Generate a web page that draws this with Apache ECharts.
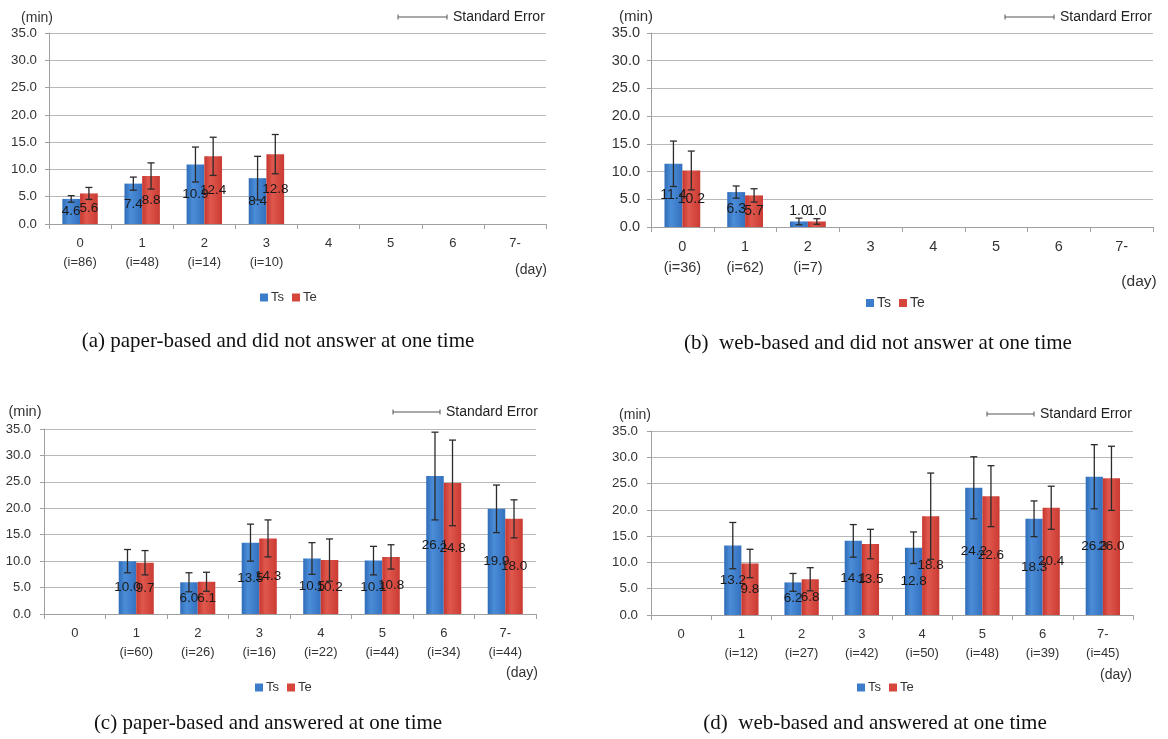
<!DOCTYPE html>
<html>
<head>
<meta charset="utf-8">
<title>Ts / Te by day</title>
<script src="https://cdn.jsdelivr.net/npm/echarts@6/dist/echarts.min.js"></script>
<style>
html, body { margin: 0; padding: 0; background: #fff; }
#chart { width: 1168px; height: 739px; }
</style>
</head>
<body>
<div id="chart"></div>
<script>
// day categories shared by all four panels
const days = ['0', '1', '2', '3', '4', '5', '6', '7-']

// (a) paper-based, did not answer at one time
const countsA = [86, 48, 14, 10, null, null, null, null]
const tsA = [4.6, 7.4, 10.9, 8.4, null, null, null, null]
const teA = [5.6, 8.8, 12.4, 12.8, null, null, null, null]
const tsErrA = [0.6, 1.2, 3.2, 4.0, null, null, null, null]
const teErrA = [1.1, 2.4, 3.5, 3.6, null, null, null, null]

// (b) web-based, did not answer at one time
const countsB = [36, 62, 7, null, null, null, null, null]
const tsB = [11.4, 6.3, 1.0, null, null, null, null, null]
const teB = [10.2, 5.7, 1.0, null, null, null, null, null]
const tsErrB = [4.1, 1.1, 0.6, null, null, null, null, null]
const teErrB = [3.5, 1.2, 0.5, null, null, null, null, null]

// (c) paper-based, answered at one time
const countsC = [null, 60, 26, 16, 22, 44, 34, 44]
const tsC = [null, 10.0, 6.0, 13.5, 10.5, 10.1, 26.1, 19.9]
const teC = [null, 9.7, 6.1, 14.3, 10.2, 10.8, 24.8, 18.0]
const tsErrC = [null, 2.2, 1.8, 3.5, 3.0, 2.7, 8.3, 4.5]
const teErrC = [null, 2.3, 1.8, 3.5, 4.0, 2.3, 8.1, 3.6]

// (d) web-based, answered at one time
const countsD = [null, 12, 27, 42, 50, 48, 39, 45]
const tsD = [null, 13.2, 6.2, 14.1, 12.8, 24.2, 18.3, 26.3]
const teD = [null, 9.8, 6.8, 13.5, 18.8, 22.6, 20.4, 26.0]
const tsErrD = [null, 4.4, 1.7, 3.1, 3.0, 5.9, 3.4, 6.1]
const teErrD = [null, 2.7, 2.2, 2.8, 8.2, 5.8, 4.1, 6.1]

const yTicks = [0, 35, 5]   // min, max, interval

const captions = [
  '(a) paper-based and did not answer at one time',
  '(b)  web-based and did not answer at one time',
  '(c) paper-based and answered at one time',
  '(d)  web-based and answered at one time'
]

const FONT = '"Liberation Sans", Arial, sans-serif'
const SERIF = '"Liberation Serif", "Times New Roman", serif'
const BAR_FRAC = 0.285
const TEXT = '#333'

const panels = [
  { ts: tsA, te: teA, tsErr: tsErrA, teErr: teErrA, counts: countsA,
    grid: { left: 49, top: 33, width: 497, height: 191 },
    yFont: 13.3, xFont: 13, lineH: 19, xMargin: 10, yMargin: 12, labelFont: 13.5,
    legend: { left: 255, top: 286 }, legendFont: 13,
    min: [37, 18, 14], day: [531, 270], se: [398, 447, 17], cap: [278, 341] },
  { ts: tsB, te: teB, tsErr: tsErrB, teErr: teErrB, counts: countsB,
    grid: { left: 651, top: 33, width: 502, height: 194 },
    yFont: 14.5, xFont: 14.5, lineH: 21, xMargin: 9, yMargin: 11, labelFont: 14,
    legend: { left: 861, top: 291 }, legendFont: 14,
    min: [636, 17, 15], day: [1139, 282], se: [1005, 1054, 17], cap: [878, 343] },
  { ts: tsC, te: teC, tsErr: tsErrC, teErr: teErrC, counts: countsC,
    grid: { left: 44, top: 429, width: 492, height: 185 },
    yFont: 13, xFont: 13, lineH: 19, xMargin: 10, yMargin: 13, labelFont: 13.5,
    legend: { left: 250, top: 676 }, legendFont: 13,
    min: [25, 412, 14.5], day: [522, 673], se: [393, 440, 412], cap: [268, 723] },
  { ts: tsD, te: teD, tsErr: tsErrD, teErr: teErrD, counts: countsD,
    grid: { left: 651, top: 431, width: 482, height: 184 },
    yFont: 13.3, xFont: 13, lineH: 19, xMargin: 10, yMargin: 13, labelFont: 13.5,
    legend: { left: 852, top: 676 }, legendFont: 13,
    min: [635, 415, 14], day: [1116, 675], se: [987, 1034, 414], cap: [875, 723] }
]

const blue = new echarts.graphic.LinearGradient(0, 0, 1, 0, [
  { offset: 0, color: '#2f6cb8' }, { offset: 0.35, color: '#4b8dd8' }, { offset: 1, color: '#3471bf' }
])
const red = new echarts.graphic.LinearGradient(0, 0, 1, 0, [
  { offset: 0, color: '#c5362e' }, { offset: 0.35, color: '#e0584d' }, { offset: 1, color: '#ca3b33' }
])

const barSeries = (idx, name, values, color, p) => ({
  name,
  type: 'bar',
  xAxisIndex: idx,
  yAxisIndex: idx,
  barWidth: (BAR_FRAC * 100) + '%',
  barGap: '0%',
  itemStyle: { color },
  label: {
    show: true,
    position: 'inside',
    color: '#1a1a1a',
    fontSize: p.labelFont,
    fontFamily: FONT,
    formatter: d => d.value == null ? '' : Number(d.value).toFixed(1)
  },
  // very short bars carry their label on top, as in the original
  data: values.map(v => (v != null && v < 3) ? { value: v, label: { position: 'top', distance: 3 } } : v)
})

const errorSeries = (idx, means, errs, side) => {
  const data = []
  means.forEach((m, i) => { if (m != null) data.push([i, m, errs[i]]) })
  return {
    type: 'custom',
    xAxisIndex: idx,
    yAxisIndex: idx,
    z: 5,
    silent: true,
    encode: { x: 0, y: 1 },
    data,
    renderItem: (params, api) => {
      const i = api.value(0), m = api.value(1), e = api.value(2)
      const catW = api.size([1, 0])[0]
      const x = api.coord([i, m])[0] + side * catW * BAR_FRAC / 2
      const yTop = api.coord([i, m + e])[1]
      const yBot = api.coord([i, m - e])[1]
      const cap = 3.5
      const style = { stroke: '#2b2b2b', lineWidth: 1.3 }
      return {
        type: 'group',
        children: [
          { type: 'line', shape: { x1: x, y1: yTop, x2: x, y2: yBot }, style },
          { type: 'line', shape: { x1: x - cap, y1: yTop, x2: x + cap, y2: yTop }, style },
          { type: 'line', shape: { x1: x - cap, y1: yBot, x2: x + cap, y2: yBot }, style }
        ]
      }
    }
  }
}

const grids = [], xAxes = [], yAxes = [], series = [], legends = [], graphics = []

panels.forEach((p, idx) => {
  grids.push({ ...p.grid, containLabel: false })
  xAxes.push({
    type: 'category',
    gridIndex: idx,
    data: days.map((d, i) => p.counts[i] != null ? `${d}\n(i=${p.counts[i]})` : d),
    axisLine: { lineStyle: { color: '#a0a0a0', width: 1 } },
    axisTick: { show: true, length: 5, lineStyle: { color: '#a0a0a0' } },
    axisLabel: { color: TEXT, fontSize: p.xFont, fontFamily: FONT, lineHeight: p.lineH, margin: p.xMargin, interval: 0 }
  })
  yAxes.push({
    type: 'value',
    gridIndex: idx,
    min: yTicks[0],
    max: yTicks[1],
    interval: yTicks[2],
    axisLine: { show: true, lineStyle: { color: '#a0a0a0', width: 1 } },
    axisTick: { show: true, length: 4, lineStyle: { color: '#a0a0a0' } },
    splitLine: { lineStyle: { color: '#b8b8b8', width: 1.2 } },
    axisLabel: { color: TEXT, fontSize: p.yFont, fontFamily: FONT, margin: p.yMargin, formatter: v => v.toFixed(1) }
  })
  series.push(barSeries(idx, 'Ts', p.ts, blue, p))
  series.push(barSeries(idx, 'Te', p.te, red, p))
  series.push(errorSeries(idx, p.ts, p.tsErr, -1))
  series.push(errorSeries(idx, p.te, p.teErr, 1))

  legends.push({
    left: p.legend.left,
    top: p.legend.top,
    icon: 'rect',
    itemWidth: 8,
    itemHeight: 8,
    itemGap: 8,
    selectedMode: false,
    textStyle: { color: TEXT, fontSize: p.legendFont, fontFamily: FONT, padding: [0, 0, 0, -2] },
    data: [
      { name: 'Ts', itemStyle: { color: '#3b7dca' } },
      { name: 'Te', itemStyle: { color: '#d6463d' } }
    ]
  })

  // axis titles
  graphics.push({ type: 'text', x: p.min[0], y: p.min[1],
    style: { text: '(min)', align: 'center', verticalAlign: 'middle', fontSize: p.min[2], fontFamily: FONT, fill: TEXT } })
  graphics.push({ type: 'text', x: p.day[0], y: p.day[1],
    style: { text: '(day)', align: 'center', verticalAlign: 'middle', fontSize: p.xFont + 1, fontFamily: FONT, fill: TEXT } })

  // "Standard Error" key
  const [x1, x2, y] = p.se
  const keyStyle = { stroke: '#555', lineWidth: 1 }
  graphics.push({ type: 'line', shape: { x1, y1: y, x2, y2: y }, style: keyStyle })
  graphics.push({ type: 'line', shape: { x1, y1: y - 2.5, x2: x1, y2: y + 2.5 }, style: keyStyle })
  graphics.push({ type: 'line', shape: { x1: x2, y1: y - 2.5, x2, y2: y + 2.5 }, style: keyStyle })
  graphics.push({ type: 'text', x: x2 + 6, y,
    style: { text: 'Standard Error', align: 'left', verticalAlign: 'middle', fontSize: 14, fontFamily: FONT, fill: '#222' } })

  // caption
  graphics.push({ type: 'text', x: p.cap[0], y: p.cap[1],
    style: { text: captions[idx], align: 'center', verticalAlign: 'middle', fontSize: 21, fontFamily: SERIF, fill: '#111' } })
})

const chart = echarts.init(document.getElementById('chart'))
chart.setOption({
  backgroundColor: '#fff',
  animation: false,
  grid: grids,
  xAxis: xAxes,
  yAxis: yAxes,
  legend: legends,
  series,
  graphic: graphics
})
window.addEventListener('resize', () => chart.resize())
</script>
</body>
</html>
